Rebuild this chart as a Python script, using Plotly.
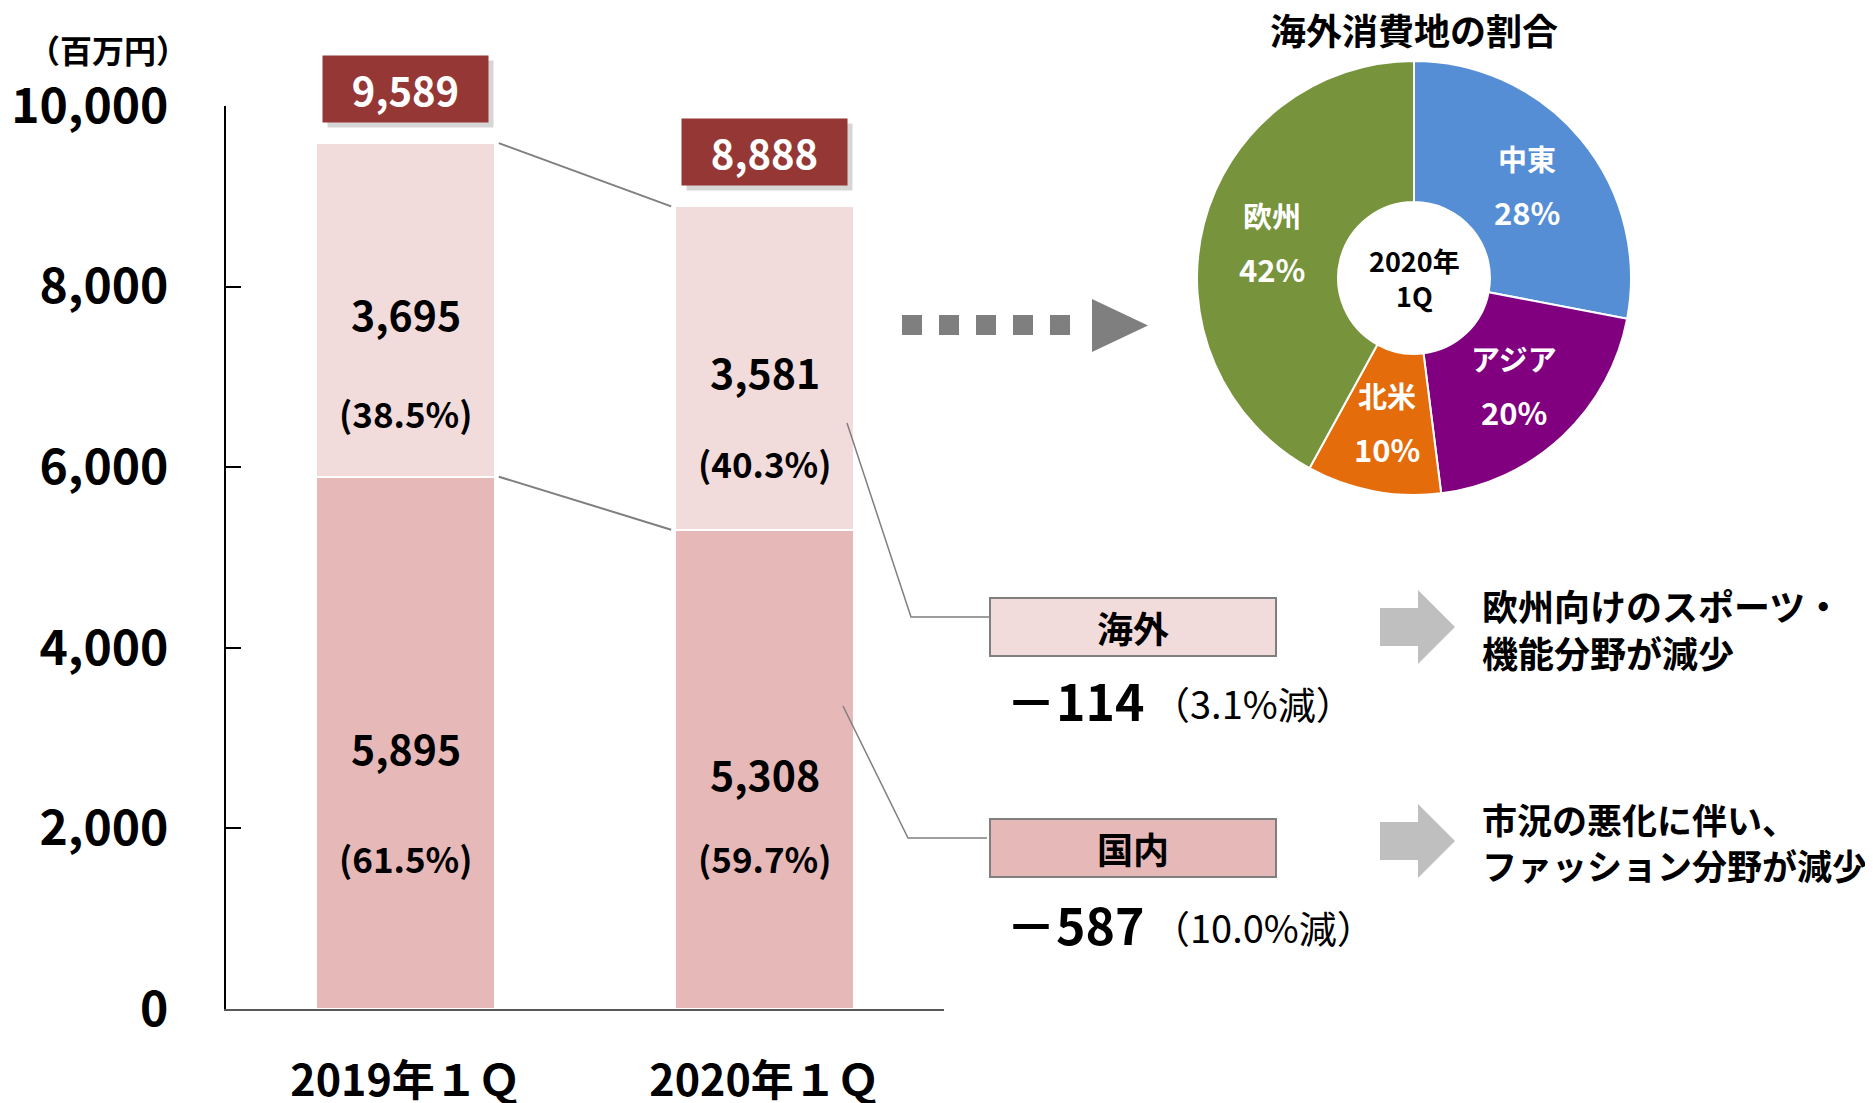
import math
import plotly.graph_objects as go

# ---------------- data ----------------
categories = ["2019年１Ｑ", "2020年１Ｑ"]
domestic = [5895, 5308]
overseas = [3695, 3581]
totals = [9589, 8888]
domestic_pct = ["(61.5%)", "(59.7%)"]
overseas_pct = ["(38.5%)", "(40.3%)"]
y_ticks = [0, 2000, 4000, 6000, 8000, 10000]

pie_labels = ["中東", "アジア", "北米", "欧州"]
pie_values = [28, 20, 10, 42]

change_labels = ["海外", "国内"]
change_values = ["－114", "－587"]
change_rates = ["（3.1%減）", "（10.0%減）"]
change_reasons = ["欧州向けのスポーツ・<br>機能分野が減少", "市況の悪化に伴い、<br>ファッション分野が減少"]

# ---------------- style ----------------
W, H = 1873, 1103
OFF = 8  # page offset of the plot div
FONT = "Noto Sans CJK JP"
C_DOM = "#E6B9B8"
C_OVS = "#F2DCDB"
C_TOTAL = "#953735"
PIE_COLORS = ["#558ED5", "#800080", "#E46C0A", "#77933C"]


def px(x):
    return (x - OFF) / W


def py(y):
    return 1 - (y - OFF) / H


fig = go.Figure()
fig.add_trace(go.Bar(x=categories, y=domestic, name="国内", width=0.5,
                     marker=dict(color=C_DOM, line=dict(color="white", width=2)),
                     hoverinfo="skip"))
fig.add_trace(go.Bar(x=categories, y=overseas, name="海外", width=0.5,
                     marker=dict(color=C_OVS, line=dict(color="white", width=2)),
                     hoverinfo="skip"))

PIE_CX, PIE_CY, PIE_R, HOLE = 1414, 278, 217, 0.35
fig.add_trace(go.Pie(labels=pie_labels, values=pie_values, sort=False,
                     direction="clockwise", rotation=0, hole=HOLE,
                     marker=dict(colors=PIE_COLORS, line=dict(color="white", width=2)),
                     textinfo="none",
                     domain=dict(x=[px(PIE_CX - PIE_R), px(PIE_CX + PIE_R)],
                                 y=[py(PIE_CY + PIE_R), py(PIE_CY - PIE_R)]),
                     showlegend=False, hoverinfo="skip"))

ann = []
shapes = []


def text(x, y, s, size, bold=True, color="black", xanchor="center", yanchor="middle", **kw):
    f = dict(family=FONT, size=size, color=color)
    if bold:
        f["weight"] = "bold"
    d = dict(x=px(x), y=py(y), xref="paper", yref="paper", showarrow=False, text=s,
             xanchor=xanchor, yanchor=yanchor, font=f)
    d.update(kw)
    ann.append(d)


# pie slice labels at the middle of the ring
total_pie = sum(pie_values)
r_mid = PIE_R * (1 + HOLE) / 2
cum = 0
for lab, v in zip(pie_labels, pie_values):
    a = math.radians((cum + v / 2) / total_pie * 360)
    cum += v
    lx = PIE_CX + r_mid * math.sin(a)
    ly = PIE_CY - r_mid * math.cos(a)
    text(lx, ly - 27, lab, 29, color="white")
    text(lx, ly + 27, f"{v}%", 31, color="white")

# totals boxes (with soft shadow)
for i, t in enumerate(totals):
    ann.append(dict(x=i, y=t, xref="x", yref="y", yanchor="bottom", yshift=15, xshift=5,
                    text=" ", showarrow=False, width=163, height=64,
                    bgcolor="rgba(0,0,0,0.16)", font=dict(family=FONT, size=40, color="rgba(0,0,0,0)")))
    ann.append(dict(x=i, y=t, xref="x", yref="y", yanchor="bottom", yshift=20,
                    text=f"{t:,}", showarrow=False, width=163, height=64,
                    bgcolor=C_TOTAL, font=dict(family=FONT, size=40, color="white", weight="bold")))

# segment labels
ovs_pct_shift = [-103, -94]
dom_pct_shift = [-115, -88]
for i in range(len(categories)):
    mid_o = domestic[i] + overseas[i] / 2
    mid_d = domestic[i] / 2
    for y, s, sh, size in [(mid_o, f"{overseas[i]:,}", -3, 41),
                           (mid_o, overseas_pct[i], ovs_pct_shift[i], 35),
                           (mid_d, f"{domestic[i]:,}", -4, 41),
                           (mid_d, domestic_pct[i], dom_pct_shift[i], 35)]:
        ann.append(dict(x=i, y=y, xref="x", yref="y", yshift=sh, text=s, showarrow=False,
                        xanchor="center", yanchor="middle",
                        font=dict(family=FONT, size=size, color="black", weight="bold")))

# connector lines between bars
shapes.append(dict(type="line", xref="x", yref="y", x0=0.26, x1=0.74,
                   y0=totals[0], y1=totals[1], line=dict(color="#7F7F7F", width=2)))
shapes.append(dict(type="line", xref="x", yref="y", x0=0.26, x1=0.74,
                   y0=domestic[0], y1=domestic[1], line=dict(color="#7F7F7F", width=2)))

# callout lines to change boxes
shapes.append(dict(type="path", xref="paper", yref="paper",
                   path=f"M{px(847)},{py(423)} L{px(911)},{py(617)} L{px(990)},{py(617)}",
                   line=dict(color="#7F7F7F", width=1.5)))
shapes.append(dict(type="path", xref="paper", yref="paper",
                   path=f"M{px(843)},{py(706)} L{px(908)},{py(838)} L{px(987)},{py(838)}",
                   line=dict(color="#7F7F7F", width=1.5)))

# dotted arrow to the pie
shapes.append(dict(type="line", xref="paper", yref="paper", x0=px(902), x1=px(1071),
                   y0=py(325), y1=py(325), line=dict(color="#7F7F7F", width=20, dash="20px,17px")))
shapes.append(dict(type="path", xref="paper", yref="paper",
                   path=f"M{px(1092)},{py(299)} L{px(1092)},{py(352)} L{px(1148)},{py(325.5)} Z",
                   fillcolor="#7F7F7F", line=dict(width=0)))

# change boxes, values, arrows, reasons
box_cy = [627, 848]
box_fill = [C_OVS, C_DOM]
val_cy = [699, 923]
arr_cy = [627, 841]
reason_cy = [628, 841]
reason_size = [36, 35]
for k in range(2):
    text(1133, box_cy[k], change_labels[k], 36, width=284, height=56, borderpad=0,
         bgcolor=box_fill[k], bordercolor="#7F7F7F", borderwidth=2)
    text(1004, val_cy[k], change_values[k], 50, xanchor="left")
    text(1150, val_cy[k] + 3, change_rates[k], 38, bold=False, xanchor="left")
    cy = arr_cy[k]
    shapes.append(dict(type="path", xref="paper", yref="paper",
                       path=(f"M{px(1380)},{py(cy - 19)} L{px(1418)},{py(cy - 19)} "
                             f"L{px(1418)},{py(cy - 37)} L{px(1455)},{py(cy)} "
                             f"L{px(1418)},{py(cy + 37)} L{px(1418)},{py(cy + 19)} "
                             f"L{px(1380)},{py(cy + 19)} Z"),
                       fillcolor="#BFBFBF", line=dict(width=0)))
    text(1480, reason_cy[k], change_reasons[k], reason_size[k], xanchor="left", align="left")

# pie title and centre text
text(PIE_CX, 29, "海外消費地の割合", 36)
text(PIE_CX, 278, "2020年<br>1Q", 27)

# unit label
text(108, 49, "（百万円）", 32)

fig.update_layout(
    width=W, height=H, template="none", barmode="stack", showlegend=False,
    paper_bgcolor="white", plot_bgcolor="rgba(0,0,0,0)",
    margin=dict(l=0, r=0, t=0, b=0),
    annotations=ann, shapes=shapes,
    xaxis=dict(domain=[px(226), px(944)], range=[-0.5, 1.5], type="category",
               showline=True, linecolor="#595959", linewidth=2, ticks="", showgrid=False,
               zeroline=False, ticklabelstandoff=33,
               tickfont=dict(family=FONT, size=43, color="black", weight="bold")),
    yaxis=dict(domain=[py(1009), py(106)], range=[0, 10000], tickvals=y_ticks, tickformat=",",
               showline=True, linecolor="black", linewidth=2, ticks="inside", ticklen=15,
               tickwidth=2, tickcolor="black", showgrid=False, zeroline=False,
               ticklabelstandoff=46,
               tickfont=dict(family=FONT, size=48, color="black", weight="bold")),
)

fig.write_html("out.html")
